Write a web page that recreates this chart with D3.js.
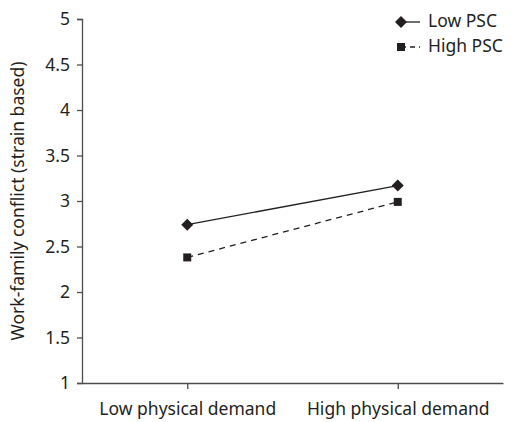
<!DOCTYPE html>
<html>
<head>
<meta charset="utf-8">
<script src="https://cdn.jsdelivr.net/npm/d3@7"></script>
<style>
  body { margin: 0; background: #fff; }
  text { font-family: "Noto Sans", sans-serif; fill: #231f20; }
</style>
</head>
<body>
<script>
var categories = ["Low physical demand", "High physical demand"];
var seriesNames = ["Low PSC", "High PSC"];
var lowPSC = [2.74, 3.17];
var highPSC = [2.38, 2.99];
var yTicks = [1, 1.5, 2, 2.5, 3, 3.5, 4, 4.5, 5];

var width = 522, height = 422;
var margin = {top: 19, right: 19, bottom: 39, left: 82};

var svg = d3.select("body").append("svg")
  .attr("width", width)
  .attr("height", height);

var x = d3.scalePoint()
  .domain(categories)
  .range([margin.left, width - margin.right])
  .padding(0.5);

var y = d3.scaleLinear()
  .domain([1, 5])
  .range([height - margin.bottom, margin.top]);

// y axis
var yAxis = svg.append("g")
  .attr("transform", "translate(" + margin.left + ",0)")
  .call(d3.axisLeft(y).tickValues(yTicks).tickSize(5).tickPadding(7)
    .tickFormat(function(d) { return d; }));
yAxis.selectAll("text").style("font-size", "17.5px");

// x axis
var xAxis = svg.append("g")
  .attr("transform", "translate(0," + (height - margin.bottom) + ")")
  .call(d3.axisBottom(x).tickSize(6).tickPadding(14).tickSizeOuter(0));
xAxis.selectAll("text").style("font-size", "17.5px");

svg.selectAll(".domain, .tick line")
  .attr("stroke", "#4d4d4d")
  .attr("stroke-width", 1.3);

svg.append("text")
  .attr("transform", "translate(19," + ((margin.top + height - margin.bottom) / 2) + ") rotate(-90)")
  .attr("text-anchor", "middle")
  .attr("dominant-baseline", "middle")
  .style("font-size", "17.5px")
  .text("Work-family conflict (strain based)");

var series = [
  {name: seriesNames[0], values: lowPSC, dash: null, rot: 45, size: 72},
  {name: seriesNames[1], values: highPSC, dash: "6,5", rot: 0, size: 64}
];

var line = d3.line()
  .x(function(d, i) { return x(categories[i]); })
  .y(function(d) { return y(d); });

series.forEach(function(s) {
  svg.append("path")
    .datum(s.values)
    .attr("d", line)
    .attr("fill", "none")
    .attr("stroke", "#231f20")
    .attr("stroke-width", 1.3)
    .attr("stroke-dasharray", s.dash);

  svg.selectAll(null)
    .data(s.values)
    .enter().append("path")
    .attr("d", d3.symbol().type(d3.symbolSquare).size(s.size))
    .attr("transform", function(d, i) {
      return "translate(" + x(categories[i]) + "," + y(d) + ") rotate(" + s.rot + ")";
    })
    .attr("fill", "#231f20");
});

// legend
var legend = svg.append("g").attr("transform", "translate(401,22)");
series.forEach(function(s, i) {
  var g = legend.append("g").attr("transform", "translate(0," + (i * 25) + ")");
  g.append("line")
    .attr("x1", 0).attr("x2", 19)
    .attr("stroke", "#231f20")
    .attr("stroke-width", 1.3)
    .attr("stroke-dasharray", s.dash ? "5,4" : null);
  g.append("path")
    .attr("d", d3.symbol().type(d3.symbolSquare).size(s.size))
    .attr("transform", "rotate(" + s.rot + ")")
    .attr("fill", "#231f20");
  g.append("text")
    .attr("x", 27)
    .attr("dominant-baseline", "middle")
    .style("font-size", "17.5px")
    .text(s.name);
});
</script>
</body>
</html>
